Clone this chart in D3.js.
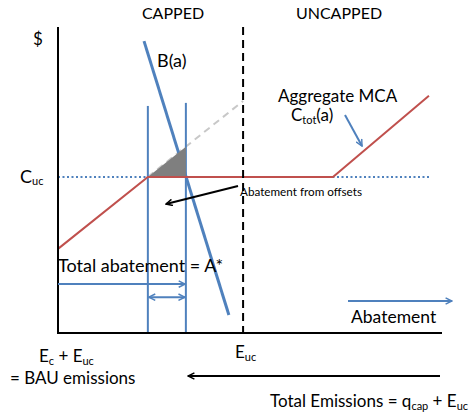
<!DOCTYPE html>
<html><head><meta charset="utf-8">
<script src="https://cdn.jsdelivr.net/npm/d3@7"></script>
<style>
body{margin:0;background:#fff;}
svg{display:block;font-family:Lato, "Open Sans", sans-serif;}
</style></head>
<body>
<script>
// Data (abatement units 0-100, price units 0-100)
const mcaX = [0, 23.4, 71.6, 96.6];        // aggregate marginal cost of abatement
const mcaY = [27.5, 51, 51, 77.5];
const benefitX = [22.4, 44.5];              // B(a)
const benefitY = [95.4, 5.9];
const extX = [23.4, 48.2];                  // continuation of capped MCA (dashed)
const extY = [51, 75.8];
const triX = [23.4, 33.3, 33.3];            // shaded triangle
const triY = [51, 51, 60.9];
const cUc = 51;                             // uncapped price
const cUcEndX = 96.9;
const eUcX = 48.2;                          // E_uc boundary
const capLinesX = [23.4, 33.3];             // vertical blue lines
const capLinesTop = [74.2, 75.2];
const offsetsArrowY = 11.7;                 // double-headed arrow height
const totalArrowY = 16; const totalArrowX = [0, 33.1];

const W = 474, H = 418;
const x = d3.scaleLinear().domain([0, 100]).range([58, 442]);
const y = d3.scaleLinear().domain([0, 100]).range([333, 27]);

const blue = "#4F81BD", red = "#C0504D";
const svg = d3.select("body").append("svg").attr("width", W).attr("height", H);
const defs = svg.append("defs");
function marker(id, color, orient){
  defs.append("marker").attr("id", id).attr("viewBox","0 0 10 10").attr("refX",9).attr("refY",5)
    .attr("markerWidth",4).attr("markerHeight",4).attr("orient", orient||"auto")
    .append("path").attr("d","M1,1 L9,5 L1,9").attr("fill","none").attr("stroke",color).attr("stroke-width",1.8);
}
marker("ab", blue); marker("ak", "#000");
defs.append("marker").attr("id","abs").attr("viewBox","0 0 10 10").attr("refX",1).attr("refY",5)
    .attr("markerWidth",4).attr("markerHeight",4).attr("orient","auto")
    .append("path").attr("d","M9,1 L1,5 L9,9").attr("fill","none").attr("stroke",blue).attr("stroke-width",1.8);

const line = d3.line().x(d => x(d[0])).y(d => y(d[1]));

// dotted uncapped price
svg.append("line").attr("x1", x(0)).attr("x2", x(cUcEndX)).attr("y1", y(cUc)).attr("y2", y(cUc))
  .attr("stroke", blue).attr("stroke-width", 2).attr("stroke-dasharray", "2,2.5");

// gray dashed extension
svg.append("path").attr("d", line(d3.zip(extX, extY))).attr("stroke", "#c8c8c8").attr("stroke-width", 2)
  .attr("stroke-dasharray", "7,5").attr("fill","none");

// vertical blue lines
capLinesX.forEach((v,i) => svg.append("line").attr("x1", x(v)).attr("x2", x(v)).attr("y1", y(capLinesTop[i])).attr("y2", y(0))
  .attr("stroke", blue).attr("stroke-width", 2));

// B(a)
svg.append("path").attr("d", line(d3.zip(benefitX, benefitY))).attr("stroke", blue).attr("stroke-width", 3).attr("fill","none");

// shaded triangle (over B line)
svg.append("path").attr("d", line(d3.zip(triX, triY)) + "Z").attr("fill", "#7f7f7f");

// MCA red
svg.append("path").attr("d", line(d3.zip(mcaX, mcaY))).attr("stroke", red).attr("stroke-width", 2).attr("fill","none");

// E_uc dashed line
svg.append("line").attr("x1", x(eUcX)).attr("x2", x(eUcX)).attr("y1", y(100)).attr("y2", y(0))
  .attr("stroke", "#000").attr("stroke-width", 2).attr("stroke-dasharray", "8,5");

// axes
svg.append("line").attr("x1", x(0)).attr("x2", x(0)).attr("y1", y(100)).attr("y2", y(0)).attr("stroke","#000").attr("stroke-width",2);
svg.append("line").attr("x1", x(0)-1).attr("x2", x(100)).attr("y1", y(0)).attr("y2", y(0)).attr("stroke","#000").attr("stroke-width",2);

// double-headed arrow (offsets)
svg.append("line").attr("x1", x(capLinesX[0])+1).attr("x2", x(capLinesX[1])-1).attr("y1", y(offsetsArrowY)).attr("y2", y(offsetsArrowY))
  .attr("stroke", blue).attr("stroke-width", 2).attr("marker-end","url(#ab)").attr("marker-start","url(#abs)");
// total abatement arrow
svg.append("line").attr("x1", x(totalArrowX[0])).attr("x2", x(totalArrowX[1])).attr("y1", y(totalArrowY)).attr("y2", y(totalArrowY))
  .attr("stroke", blue).attr("stroke-width", 2).attr("marker-end","url(#ab)");
// abatement direction arrow
svg.append("line").attr("x1", 348).attr("x2", 452).attr("y1", 301).attr("y2", 301)
  .attr("stroke", blue).attr("stroke-width", 2).attr("marker-end","url(#ab)");
// C_tot pointer arrow
svg.append("line").attr("x1", 345).attr("x2", 362).attr("y1", 115).attr("y2", 146)
  .attr("stroke", blue).attr("stroke-width", 2).attr("marker-end","url(#ab)");
// offsets pointer arrow (black)
svg.append("line").attr("x1", 238).attr("x2", 166).attr("y1", 186).attr("y2", 204)
  .attr("stroke", "#000").attr("stroke-width", 2).attr("marker-end","url(#ak)");
// total emissions arrow
svg.append("line").attr("x1", 440).attr("x2", 188).attr("y1", 376).attr("y2", 376)
  .attr("stroke", "#000").attr("stroke-width", 2).attr("marker-end","url(#ak)");

// text
function txt(t, px, py, size, anchor){
  return svg.append("text").attr("x", px).attr("y", py).attr("font-size", size).attr("fill","#000")
    .attr("text-anchor", anchor||"start").text(t);
}
txt("CAPPED", 173, 19, 16, "middle");
txt("UNCAPPED", 339, 19, 16, "middle");
txt("$", 33, 45, 17);
txt("B(a)", 157, 67, 18);
txt("Aggregate MCA", 278, 102, 17);
const ct = txt("C", 291, 121, 17);
ct.append("tspan").attr("font-size", 11).attr("dy", 3).text("tot");
ct.append("tspan").attr("dy", -3).text("(a)");
const cu = txt("C", 20, 183, 18);
cu.append("tspan").attr("font-size", 11).attr("dy", 2).text("uc");
txt("Abatement from offsets", 240, 196, 11.7);
txt("Total abatement = A*", 58, 272, 18);
txt("Abatement", 351, 323, 17.5);
const ec = txt("E", 39, 362, 17);
ec.append("tspan").attr("font-size", 11).attr("dy", 3).text("c");
ec.append("tspan").attr("dy", -3).text(" + E");
ec.append("tspan").attr("font-size", 11).attr("dy", 3).text("uc");
txt("= BAU emissions", 10, 384, 17);
const eu = txt("E", 235, 358, 17);
eu.append("tspan").attr("font-size", 11).attr("dy", 3).text("uc");
const te = txt("Total Emissions = q", 270, 407, 17);
te.append("tspan").attr("font-size", 11).attr("dy", 3).text("cap");
te.append("tspan").attr("dy", -3).text(" + E");
te.append("tspan").attr("font-size", 11).attr("dy", 3).text("uc");
</script>
</body></html>
